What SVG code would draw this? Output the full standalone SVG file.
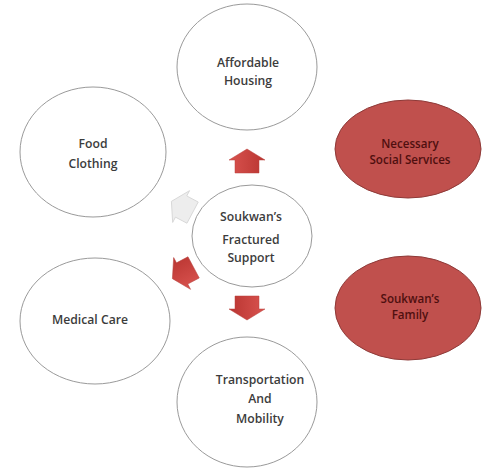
<svg xmlns="http://www.w3.org/2000/svg" width="483" height="469" viewBox="0 0 483 469">
<defs>
<style>
.wc{fill:#ffffff;stroke:#9a9a9a;stroke-width:1}
.rc{fill:#c0504d;stroke:#8e3a38;stroke-width:1}
.t{font-family:"Open Sans","Liberation Sans",sans-serif;font-size:12.2px;font-weight:600;fill:#3c3c3c;text-anchor:middle}
.tr{font-family:"Open Sans","Liberation Sans",sans-serif;font-size:11.6px;font-weight:600;fill:#4f0f0f;text-anchor:middle}
.ra{fill:url(#rg);stroke:#b8403d;stroke-width:0.5}
.ga{fill:#ededed;stroke:#d4d4d4;stroke-width:0.8}
</style>
<linearGradient id="rg" x1="0" y1="0" x2="0" y2="1">
<stop offset="0" stop-color="#d9534f"/>
<stop offset="1" stop-color="#b93531"/>
</linearGradient>
<polygon id="arr" points="-12,-12 1,-12 1,-18 12,0 1,18 1,12 -12,12"/>
</defs>
<rect width="483" height="469" fill="#ffffff"/>
<g id="connectors">
<use href="#arr" class="ra" transform="translate(247,161) rotate(-90)"/>
<use href="#arr" class="ra" transform="translate(247,308) rotate(90)"/>
<use href="#arr" class="ra" transform="translate(183,273) rotate(152)"/>
<use href="#arr" class="ga" transform="translate(182,207) rotate(208)"/>
</g>
<g id="affordable-housing">
<ellipse class="wc" cx="247" cy="67" rx="70" ry="63"/>
<text class="t" x="248" y="67">Affordable</text>
<text class="t" x="248" y="85">Housing</text>
</g>
<g id="necessary-social-services">
<ellipse class="rc" cx="408" cy="149" rx="73" ry="49"/>
<text class="tr" x="410" y="148">Necessary</text>
<text class="tr" x="410" y="164">Social Services</text>
</g>
<g id="food-clothing">
<ellipse class="wc" cx="93" cy="152" rx="73" ry="65"/>
<text class="t" x="93" y="148">Food</text>
<text class="t" x="93" y="168">Clothing</text>
</g>
<g id="fractured-support">
<ellipse class="wc" cx="252" cy="236" rx="60" ry="51"/>
<text class="t" x="251" y="221">Soukwan’s</text>
<text class="t" x="251" y="244">Fractured</text>
<text class="t" x="251" y="262">Support</text>
</g>
<g id="medical-care">
<ellipse class="wc" cx="95" cy="321" rx="75" ry="63"/>
<text class="t" x="90" y="324">Medical Care</text>
</g>
<g id="soukwans-family">
<ellipse class="rc" cx="408" cy="308" rx="73" ry="52"/>
<text class="tr" x="410" y="303">Soukwan’s</text>
<text class="tr" x="410" y="319">Family</text>
</g>
<g id="transportation-mobility">
<ellipse class="wc" cx="247" cy="402" rx="70" ry="65"/>
<text class="t" x="260" y="384">Transportation</text>
<text class="t" x="260" y="403">And</text>
<text class="t" x="260" y="423">Mobility</text>
</g>
</svg>
